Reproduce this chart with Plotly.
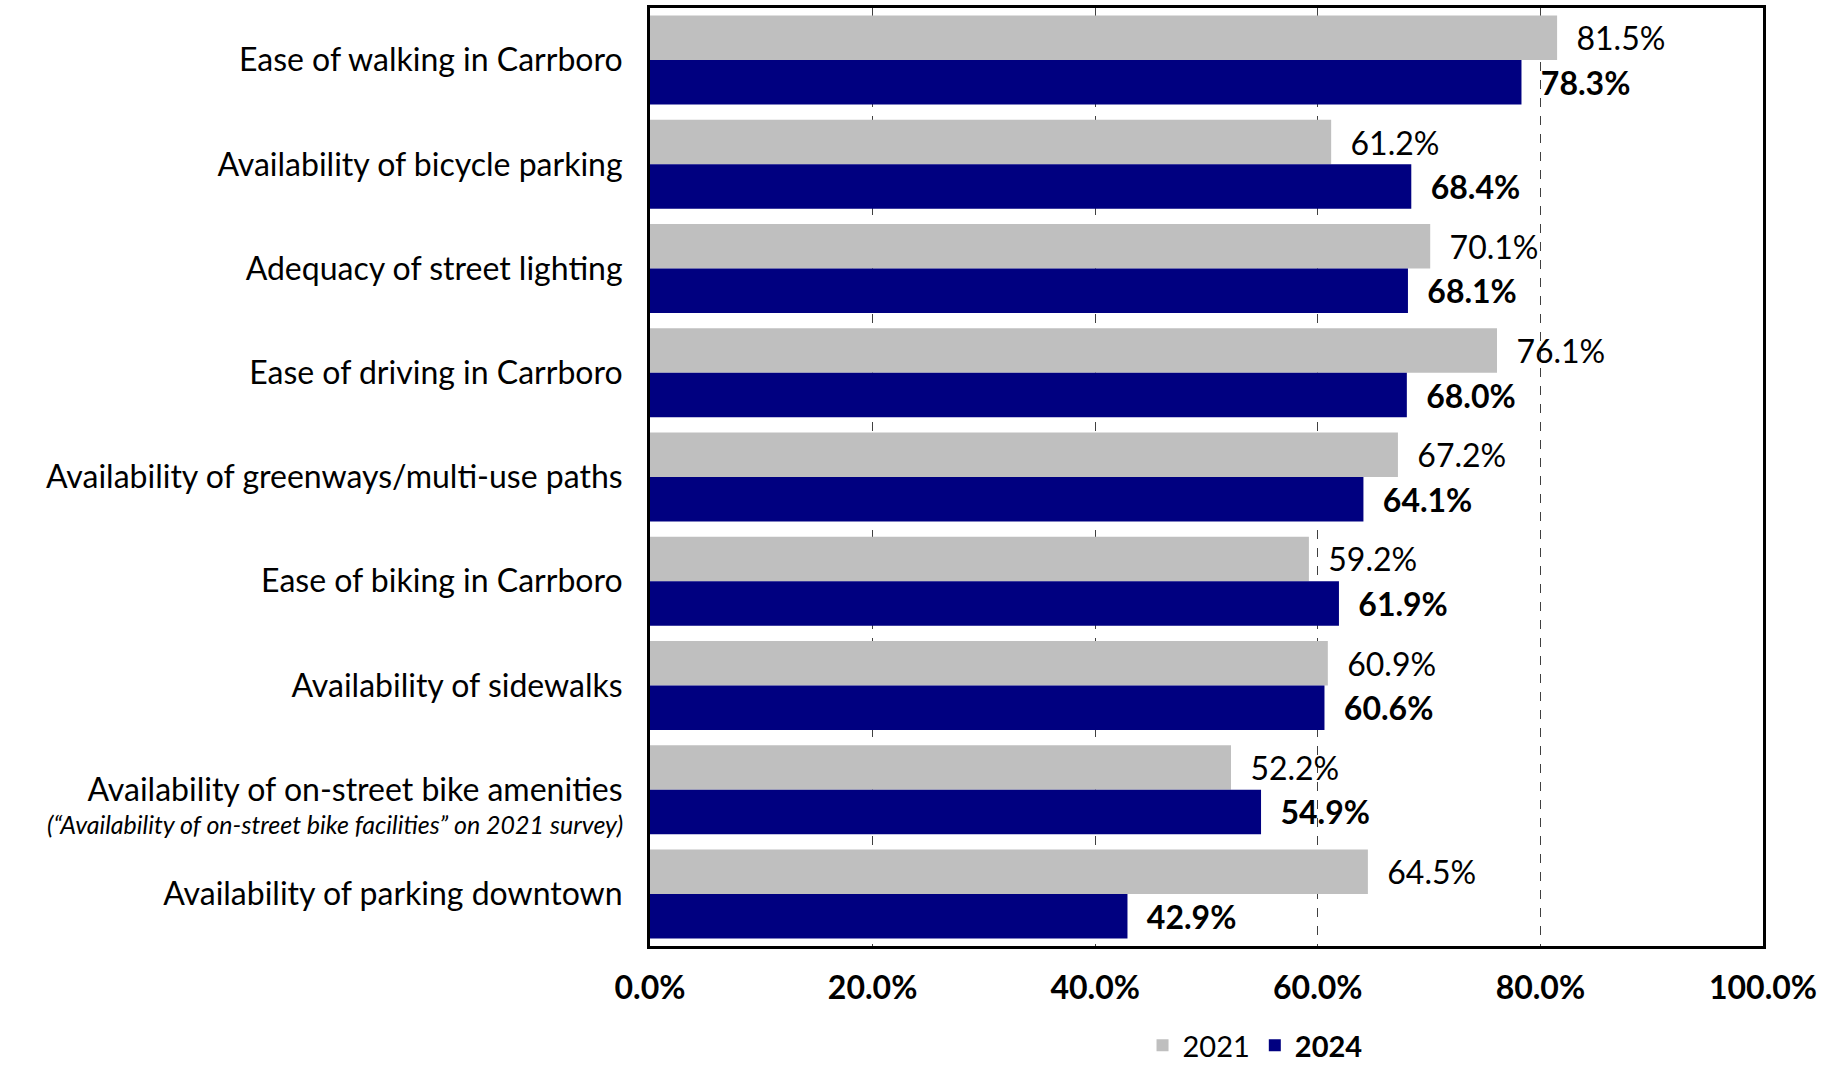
import plotly.graph_objects as go

categories = [
    "Ease of walking in Carrboro",
    "Availability of bicycle parking",
    "Adequacy of street lighting",
    "Ease of driving in Carrboro",
    "Availability of greenways/multi-use paths",
    "Ease of biking in Carrboro",
    "Availability of sidewalks",
    "Availability of on-street bike amenities",
    "Availability of parking downtown",
]
subtitle_category = "Availability of on-street bike amenities"
subtitle_text = "(\u201cAvailability of on-street bike facilities\u201d on 2021 survey)"

values_2021 = [81.5, 61.2, 70.1, 76.1, 67.2, 59.2, 60.9, 52.2, 64.5]
values_2024 = [78.3, 68.4, 68.1, 68.0, 64.1, 61.9, 60.6, 54.9, 42.9]
series_names = ["2021", "2024"]
tick_values = [0, 20, 40, 60, 80, 100]

FONT = "Lato"
PAD = "\u00a0\u00a0"

fig = go.Figure()
fig.add_trace(go.Bar(
    y=categories, x=values_2021, orientation="h", name=series_names[0],
    marker=dict(color="#BFBFBF", line=dict(width=0)),
    text=[PAD + f"{v:.1f}%" for v in values_2021],
    textposition="outside", constraintext="none", cliponaxis=False,
    textfont=dict(family=FONT, size=32, color="#000000"),
))
fig.add_trace(go.Bar(
    y=categories, x=values_2024, orientation="h", name="<b>" + series_names[1] + "</b>",
    marker=dict(color="#000080", line=dict(width=0)),
    text=[PAD + f"<b>{v:.1f}%</b>" for v in values_2024],
    textposition="outside", constraintext="none", cliponaxis=False,
    textfont=dict(family=FONT, size=32, color="#000000"),
))

fig.add_annotation(
    xref="paper", yref="y", x=0, y=subtitle_category, xanchor="right", yanchor="middle",
    xshift=-25, yshift=-34, showarrow=False,
    text="<i>" + subtitle_text + "</i>",
    font=dict(family=FONT, size=25, color="#000000"),
)

fig.update_layout(
    width=1843, height=1071,
    margin=dict(l=650, r=80, t=8, b=125, autoexpand=False),
    barmode="group", bargap=0.146, bargroupgap=0,
    plot_bgcolor="#FFFFFF", paper_bgcolor="#FFFFFF",
    font=dict(family=FONT, color="#000000"),
    showlegend=True,
    legend=dict(
        orientation="h", x=0.5436, xanchor="center",
        yref="container", y=-0.004, yanchor="bottom",
        font=dict(family=FONT, size=29, color="#000000"), traceorder="normal",
        itemwidth=30,
    ),
)
fig.update_xaxes(
    range=[0, 100], tickvals=tick_values,
    ticktext=[f"<b>{v:.1f}%</b>" for v in tick_values],
    tickfont=dict(family=FONT, size=32, color="#000000"),
    showgrid=True, gridcolor="#404040", griddash="dash", gridwidth=1,
    showline=True, linecolor="#000000", linewidth=3, mirror=True,
    ticks="", zeroline=False, ticklabelstandoff=12,
)
fig.update_yaxes(
    autorange="reversed", type="category",
    tickfont=dict(family=FONT, size=32, color="#000000"),
    showline=True, linecolor="#000000", linewidth=3, mirror=True,
    ticks="", showgrid=False, ticklabelstandoff=18,
)

fig.write_html("out.html")
